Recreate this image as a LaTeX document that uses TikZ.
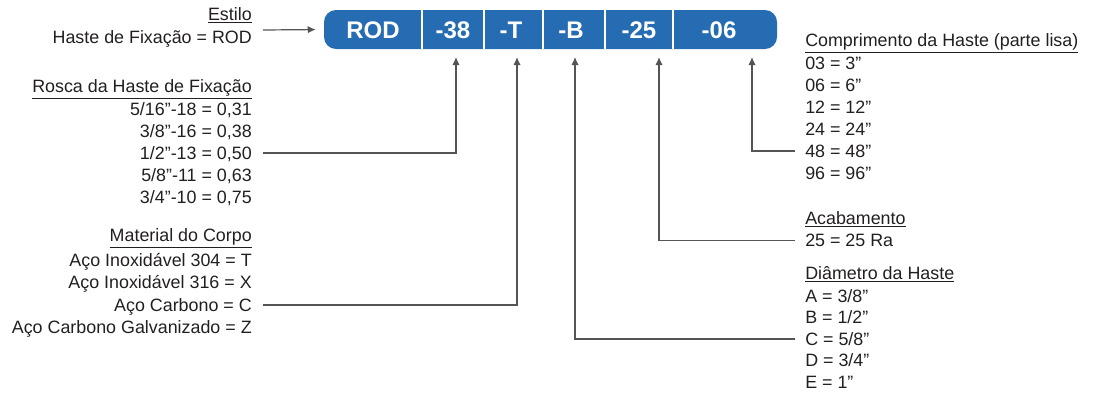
\documentclass[tikz,border=0pt]{standalone}
\usepackage{fontspec}
\setmainfont{Liberation Sans}
\usetikzlibrary{arrows.meta}
\definecolor{rodblue}{RGB}{38,108,178}
\definecolor{txtgray}{RGB}{35,31,32}
\definecolor{linegray}{RGB}{85,85,85}
\tikzset{
  lbl/.style={inner sep=0pt, text height=9.6pt, text depth=0pt,
    font=\fontsize{13.4}{16}\selectfont, text=txtgray},
  lft/.style={lbl, anchor=east},
  rgt/.style={lbl, anchor=west},
  seg/.style={text=white, inner sep=0pt, font=\fontsize{18}{20}\selectfont\bfseries},
  lead/.style={draw=linegray, line width=0.9pt, -{Latex[length=6pt,width=5.5pt]}},
}
\begin{document}
\begin{tikzpicture}[x=0.75pt,y=-0.75pt]
        \useasboundingbox (0,0) rectangle (1096,396);
        % barra do codigo
        \node[fill=rodblue, rounded corners=9pt, minimum width=339.75pt,
          minimum height=29.25pt, inner sep=0pt] (bar) at (550.5,29.5) {};
        \foreach \x in {422,484,543,605,673}
          \draw[white, line width=1.4pt] (\x,10) -- (\x,49);
        \node[seg] (rod) at (373,30) {ROD};
        \node[seg] (s38) at (453,30) {-38};
        \node[seg] (sT) at (511,30) {-T};
        \node[seg] (sB) at (571,30) {-B};
        \node[seg] (s25) at (639,30) {-25};
        \node[seg] (s06) at (719,30) {-06};
        \coordinate (t38) at (456,57);
        \coordinate (tT) at (517,57);
        \coordinate (tB) at (575,57);
        \coordinate (t25) at (659,57);
        \coordinate (t06) at (752,57);
        % lado esquerdo
        \node[lft] (estilo) at (252,14) {\underline{Estilo}};
        \node[lft] (fix) at (252,36.7) {Haste de Fixação = ROD};
        \coordinate (stl) at (263,30);
        \draw[lead, shorten >=6pt] (stl) -- (bar.west);
        \node[lft] (rosca) at (252,86) {\underline{Rosca da Haste de Fixação}};
        \foreach \t [count=\i] in {{5/16”-18 = 0,31},{3/8”-16 = 0,38},{1/2”-13 = 0,50},{5/8”-11 = 0,63},{3/4”-10 = 0,75}}
          \node[lft] (rosca\i) at (252,{87+22*\i}) {\t};
        \node[lft] (mat) at (252,235.5) {\underline{Material do Corpo}};
        \foreach \t [count=\i] in {Aço Inoxidável 304 = T,Aço Inoxidável 316 = X,Aço Carbono = C,Aço Carbono Galvanizado = Z}
          \node[lft] (mat\i) at (252,{237.5+22.5*\i}) {\t};
        \draw[lead, shorten <=8pt] (rosca3.east) -| (t38);
        \draw[lead, shorten <=8pt] (mat3.east) -| (tT);
        % lado direito
        \node[rgt] (comp) at (805,40) {\underline{Comprimento da Haste (parte lisa)}};
        \foreach \t [count=\i] in {03 = 3”,06 = 6”,12 = 12”,24 = 24”,48 = 48”,96 = 96”}
          \node[rgt] (comp\i) at (805,{41+22*\i}) {\t};
        \node[rgt] (acab) at (805,218) {\underline{Acabamento}};
        \node[rgt] (acab1) at (805,240.5) {25 = 25 Ra};
        \node[rgt] (diam) at (805,273) {\underline{Diâmetro da Haste}};
        \foreach \t [count=\i] in {A = 3/8”,B = 1/2”,C = 5/8”,D = 3/4”,E = 1”}
          \node[rgt] (diam\i) at (805,{274.5+21.5*\i}) {\t};
        \draw[lead, shorten <=7.5pt] (comp5.west) -| (t06);
        \draw[lead, shorten <=7.5pt] (acab1.west) -| (t25);
        \draw[lead, shorten <=7.5pt] (diam3.west) -| (tB);
\end{tikzpicture}
\end{document}
